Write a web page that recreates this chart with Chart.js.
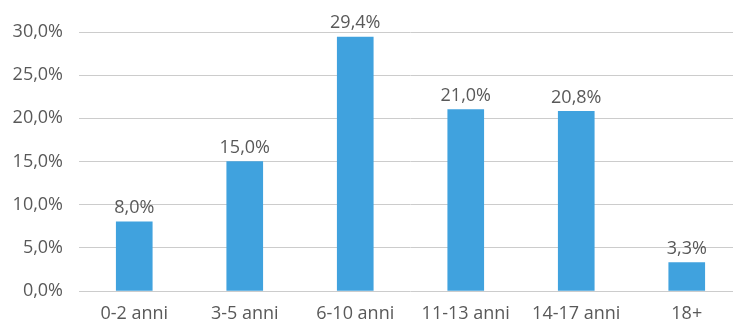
<!DOCTYPE html>
<html>
<head>
<meta charset="utf-8">
<script src="https://cdn.jsdelivr.net/npm/chart.js@4/dist/chart.umd.min.js"></script>
<style>
  html, body { margin: 0; padding: 0; background: #fff; overflow: hidden; }
  #wrap { width: 742px; height: 321px; }
</style>
</head>
<body>
<div id="wrap"><canvas id="myChart" width="742" height="321"></canvas></div>
<script>
var categorie = ["0-2 anni", "3-5 anni", "6-10 anni", "11-13 anni", "14-17 anni", "18+"];
var valori = [8.0, 15.0, 29.4, 21.0, 20.8, 3.3];
var tickValori = [0, 5, 10, 15, 20, 25, 30];

var grigio = '#595959';
var font = { family: "'Open Sans', sans-serif", size: 18 };

function formatta(v) {
	return v.toFixed(1).replace('.', ',') + '%';
}

// etichette sopra le barre
var etichette = {
	id: 'etichette',
	afterDatasetsDraw: function (chart) {
		var ctx = chart.ctx;
		var meta = chart.getDatasetMeta(0);
		ctx.save();
		ctx.font = font.size + 'px ' + font.family;
		ctx.fillStyle = grigio;
		ctx.textAlign = 'center';
		ctx.textBaseline = 'bottom';
		meta.data.forEach(function (bar, i) {
			ctx.fillText(formatta(valori[i]), bar.x, bar.y - 5);
		});
		ctx.restore();
	}
};

var ctx = document.getElementById('myChart').getContext('2d');
var chart = new Chart(ctx, {
	type: 'bar',
	data: {
		labels: categorie,
		datasets: [{
			data: valori,
			backgroundColor: 'rgb(64, 162, 222)',
			borderWidth: 0,
			barThickness: 36
		}]
	},
	options: {
		responsive: false,
		animation: false,
		layout: { padding: { top: 32, left: 0, right: 0, bottom: 0 } },
		plugins: {
			legend: { display: false },
			tooltip: { enabled: false }
		},
		scales: {
			x: {
				grid: { display: false, drawTicks: false },
				border: { display: false },
				ticks: {
					color: grigio,
					font: font,
					maxRotation: 0,
					autoSkip: false,
					padding: 12
				},
				afterFit: function (scale) { scale.height = 30; }
			},
			y: {
				min: 0,
				max: 30,
				afterBuildTicks: function (scale) {
					scale.ticks = tickValori.map(function (v) { return { value: v }; });
				},
				grid: { color: '#cccccc', drawTicks: false, lineWidth: 1 },
				border: { display: false },
				ticks: {
					color: grigio,
					font: font,
					padding: 16,
					callback: function (v) { return formatta(v); }
				},
				afterFit: function (scale) { scale.width = 79; }
			}
		}
	},
	plugins: [etichette]
});
</script>
</body>
</html>
